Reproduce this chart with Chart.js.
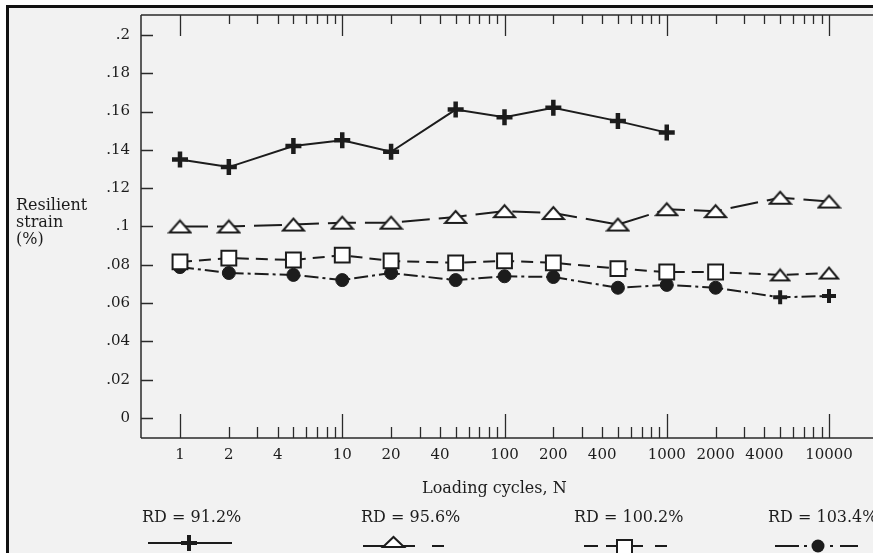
<!DOCTYPE html>
<html>
<head>
<meta charset="utf-8">
<script src="https://cdn.jsdelivr.net/npm/chart.js@4"></script>
<style>
  html, body { margin: 0; padding: 0; background: #fff; overflow: hidden; }
  #page { position: relative; width: 873px; height: 553px; overflow: hidden; background: #fff; }
  #frame { position: absolute; left: 6px; top: 5px; width: 900px; height: 600px;
           border-left: 3px solid #111; border-top: 3px solid #111; background: #f2f2f2; }
  #plot { position: absolute; left: 0; top: 0; }
  .txt { position: absolute; font-family: "DejaVu Serif", serif; font-size: 16px; color: #1c1c1c; white-space: nowrap; line-height: 17px; }
  #samples { position: absolute; left: 0; top: 520px; }
</style>
</head>
<body>
<div id="page">
  <div id="frame"></div>
  <canvas id="plot" width="873" height="553"></canvas>
  <div class="txt" style="left:16px;top:196px">Resilient<br>strain<br>(%)</div>
  <div class="txt" style="left:422px;top:479px">Loading cycles, N</div>
  <div class="txt" id="lg0" style="left:142px;top:508px"></div>
  <div class="txt" id="lg1" style="left:361px;top:508px"></div>
  <div class="txt" id="lg2" style="left:574px;top:508px"></div>
  <div class="txt" id="lg3" style="left:768px;top:508px"></div>
  <svg id="samples" width="873" height="33" fill="none" stroke="#1c1c1c" stroke-width="2">
    <path d="M148 23 H232"/>
    <path d="M181 23 H197 M189 15 V31" stroke-width="4"/>
    <path d="M363 26 H415 M432 26 H444"/>
    <path d="M383 27 L404 27 L393.5 17 Z" fill="#fff"/>
    <path d="M584 26 H598 M606 26 H617 M632 26 H643 M655 26 H667"/>
    <rect x="617" y="20" width="15" height="15" fill="#fff"/>
    <path d="M775 26 H799 M804 26 H807 M830 26 H833 M840 26 H858"/>
    <circle cx="818" cy="26" r="6.5" fill="#1c1c1c" stroke="none"/>
  </svg>
</div>
<script>
// loading cycles N for each measurement
const cycles = [1, 2, 5, 10, 20, 50, 100, 200, 500, 1000, 2000, 5000, 10000];

// resilient strain (%) per relative density
const rd912  = [0.135, 0.131, 0.142, 0.145, 0.139, 0.161, 0.157, 0.162, 0.155, 0.149];
const rd956  = [0.100, 0.100, 0.101, 0.102, 0.102, 0.105, 0.108, 0.107, 0.101, 0.109, 0.108, 0.115, 0.113];
const rd1002 = [0.0815, 0.0835, 0.0825, 0.085, 0.082, 0.081, 0.082, 0.081, 0.078, 0.0762, 0.0762, 0.0747, 0.0757];
const rd1034 = [0.0788, 0.0757, 0.0747, 0.072, 0.0757, 0.072, 0.074, 0.0736, 0.068, 0.0695, 0.068, 0.063, 0.0637];

const seriesNames = ['RD = 91.2%', 'RD = 95.6%', 'RD = 100.2%', 'RD = 103.4%'];

const xTicks = [1, 2, 4, 10, 20, 40, 100, 200, 400, 1000, 2000, 4000, 10000];
const xTickLabels = ['1', '2', '4', '10', '20', '40', '100', '200', '400', '1000', '2000', '4000', '10000'];
const yTicks = [0, 0.02, 0.04, 0.06, 0.08, 0.1, 0.12, 0.14, 0.16, 0.18, 0.2];
const yTickLabels = ['0', '.02', '.04', '.06', '.08', '.1', '.12', '.14', '.16', '.18', '.2'];

seriesNames.forEach((n, i) => { document.getElementById('lg' + i).textContent = n; });

const INK = '#1c1c1c';
const pts = (ys) => ys.map((y, i) => ({ x: cycles[i], y }));

// flat open triangle used in the figure
function triMark(w, h) {
  const c = document.createElement('canvas');
  c.width = w + 4; c.height = h + 4;
  const g = c.getContext('2d');
  g.beginPath();
  g.moveTo(2, h + 2); g.lineTo(w + 2, h + 2); g.lineTo(w / 2 + 2, 2); g.closePath();
  g.fillStyle = '#fff'; g.fill();
  g.lineWidth = 2; g.strokeStyle = INK; g.stroke();
  return c;
}
const tri = triMark(21, 12);
const triSmall = triMark(18, 11);

// inner tick marks and axis lines, like the printed figure
const innerTicks = {
  id: 'innerTicks',
  beforeDatasetsDraw(chart) {
    const { ctx, chartArea: a, scales: { x, y } } = chart;
    ctx.save();
    ctx.strokeStyle = '#2a2a2a';
    ctx.lineWidth = 1.5;
    ctx.beginPath();
    ctx.moveTo(a.left, a.top); ctx.lineTo(a.left, a.bottom);
    ctx.moveTo(a.left, a.bottom); ctx.lineTo(a.right, a.bottom);
    ctx.moveTo(a.left, a.top); ctx.lineTo(a.right, a.top);
    ctx.stroke();
    ctx.lineWidth = 1.3;
    ctx.beginPath();
    yTicks.forEach(v => {
      const py = Math.round(y.getPixelForValue(v)) + 0.5;
      ctx.moveTo(a.left, py); ctx.lineTo(a.left + 12, py);
    });
    for (let d = 1; d <= 10000; d *= 10) {
      for (let m = 1; m < 10; m++) {
        const v = d * m;
        if (v > 10000) break;
        const px = Math.round(x.getPixelForValue(v)) + 0.5;
        const major = m === 1;
        ctx.moveTo(px, a.bottom); ctx.lineTo(px, a.bottom - (major ? 24 : 11));
        ctx.moveTo(px, a.top); ctx.lineTo(px, a.top + (major ? 21 : 9));
      }
    }
    ctx.stroke();
    ctx.restore();
  }
};

const noPad = s => { s.paddingTop = 0; s.paddingBottom = 0; s.paddingLeft = 0; s.paddingRight = 0; };

new Chart(document.getElementById('plot'), {
  type: 'line',
  data: {
    datasets: [
      {
        label: seriesNames[0],
        data: pts(rd912),
        borderColor: INK, borderWidth: 2,
        pointStyle: 'cross', pointRadius: 8, pointBorderWidth: 4.5,
        pointBorderColor: INK
      },
      {
        label: seriesNames[1],
        data: pts(rd956),
        borderColor: INK, borderWidth: 2, borderDash: [28, 9],
        pointStyle: tri
      },
      {
        label: seriesNames[2],
        data: pts(rd1002),
        borderColor: INK, borderWidth: 2, borderDash: [12, 7],
        pointStyle: ctx => ctx.dataIndex >= 11 ? triSmall : 'rect',
        pointRadius: 10.5, pointBorderWidth: 2,
        pointBackgroundColor: '#fff', pointBorderColor: INK
      },
      {
        label: seriesNames[3],
        data: pts(rd1034),
        borderColor: INK, borderWidth: 2, borderDash: [14, 4, 3, 4],
        pointStyle: ctx => ctx.dataIndex >= 11 ? 'cross' : 'circle',
        pointRadius: ctx => ctx.dataIndex >= 11 ? 7 : 6.5,
        pointBorderWidth: ctx => ctx.dataIndex >= 11 ? 4 : 1,
        pointBackgroundColor: INK, pointBorderColor: INK
      }
    ]
  },
  options: {
    responsive: false,
    animation: false,
    devicePixelRatio: 1,
    layout: { autoPadding: false, padding: { left: 0, right: 0, top: 15, bottom: 75 } },
    elements: { line: { tension: 0, fill: false } },
    plugins: { legend: { display: false }, tooltip: { enabled: false } },
    scales: {
      x: {
        type: 'logarithmic',
        min: 0.575, max: 18670,
        grid: { display: false, drawTicks: false },
        border: { display: false },
        afterFit: s => { s.height = 40; noPad(s); },
        afterBuildTicks: s => { s.ticks = xTicks.map(v => ({ value: v })); },
        ticks: {
          autoSkip: false, maxRotation: 0, minRotation: 0, padding: 8,
          color: INK, font: { family: 'DejaVu Serif', size: 15 },
          callback: v => { const i = xTicks.indexOf(v); return i < 0 ? '' : xTickLabels[i]; }
        }
      },
      y: {
        type: 'linear',
        min: -0.01044, max: 0.2104,
        grid: { display: false, drawTicks: false },
        border: { display: false },
        afterFit: s => { s.width = 141; noPad(s); },
        afterBuildTicks: s => { s.ticks = yTicks.map(v => ({ value: v })); },
        ticks: {
          padding: 11,
          color: INK, font: { family: 'DejaVu Serif', size: 15 },
          callback: v => { const i = yTicks.findIndex(t => Math.abs(t - v) < 1e-9); return i < 0 ? '' : yTickLabels[i]; }
        }
      }
    }
  },
  plugins: [innerTicks]
});
</script>
</body>
</html>
